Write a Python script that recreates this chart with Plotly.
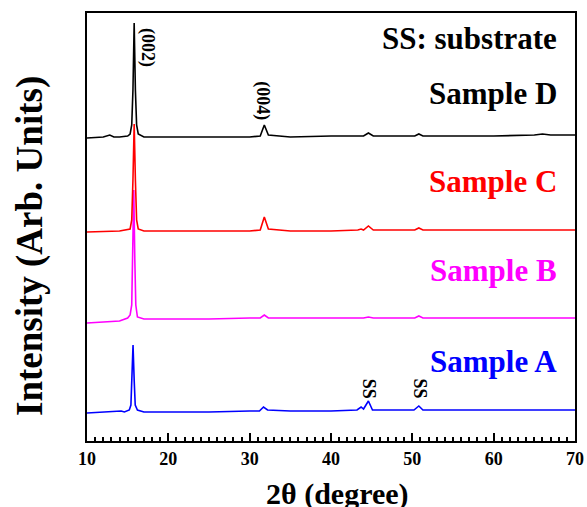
import plotly.graph_objects as go

# ---- data (2theta in degrees, intensity in arbitrary units, offsets included) ----
xA = [10, 13, 14.2, 14.6, 15.2, 15.4, 15.53, 15.66, 15.8, 15.93, 16.2, 17, 20, 25, 30, 31.2, 31.7, 32.2,
      35, 40, 43.2, 43.7, 44.0, 44.6, 45.1, 48, 50.2, 50.8, 51.3, 55, 60, 65, 70]
yA = [28, 29, 30, 29, 31, 36, 61, 96, 61, 36, 31, 29, 29, 29, 30, 30, 34, 31,
      30, 30, 31, 34, 32, 40, 31, 31, 31, 35, 31, 31, 31, 31, 31]

xB = [10, 12, 14, 15.0, 15.3, 15.5, 15.62, 15.75, 15.88, 16.0, 16.2, 17, 20, 25, 30, 31.3, 31.8, 32.3,
      35, 40, 44.0, 44.6, 45.2, 50.3, 50.8, 51.3, 55, 60, 65, 70]
yB = [118, 119, 120, 123, 126, 136, 181, 251, 181, 136, 124, 122, 122, 122, 123, 123, 126, 123,
      123, 123, 123, 124, 123, 123, 125, 123, 123, 123, 123, 123]

xC = [10, 14, 15.3, 15.5, 15.65, 15.8, 15.95, 16.1, 16.3, 17, 20, 25, 30, 31.3, 31.8, 32.3,
      35, 40, 43.3, 43.7, 44.0, 44.6, 45.2, 50.3, 50.8, 51.3, 55, 60, 65, 70]
yC = [209, 210, 212, 221, 261, 317, 261, 221, 212, 210, 210, 210, 210, 211, 224, 212,
      210, 210, 211, 212, 211, 215, 211, 211, 213, 211, 211, 211, 211, 211]

xD = [10, 12, 12.8, 13.3, 14, 15.0, 15.3, 15.5, 15.65, 15.8, 15.95, 16.1, 16.3, 17, 20, 25, 30, 31.3,
      31.8, 32.3, 35, 40, 44.0, 44.6, 45.2, 50.3, 50.8, 51.3, 55, 60, 65, 66, 67, 70]
yD = [303, 304, 306, 304, 304, 305, 307, 316, 351, 418, 351, 316, 307, 304, 304, 304, 304, 305,
      316, 306, 304, 305, 305, 308, 305, 305, 307, 305, 305, 305, 306, 307, 306, 306]

series = [("Sample A", xA, yA, "#0000ff"),
          ("Sample B", xB, yB, "#ff00ff"),
          ("Sample C", xC, yC, "#ff0000"),
          ("Sample D", xD, yD, "#000000")]

label_y = {"Sample A": 80, "Sample B": 171, "Sample C": 260, "Sample D": 348}
peak_labels = [("(002)", 17.5, 394), ("(004)", 31.6, 340), ("SS", 44.7, 52), ("SS", 51.0, 52)]

FONT = "Times New Roman, Liberation Serif, serif"

fig = go.Figure()
for name, xs, ys, col in series:
    fig.add_trace(go.Scatter(x=xs, y=ys, mode="lines", name=name,
                             line=dict(color=col, width=1.6), showlegend=False))

for name, xs, ys, col in series:
    fig.add_annotation(x=68.0, y=label_y[name], text="<b>%s</b>" % name, showarrow=False,
                       xanchor="right", yanchor="middle",
                       font=dict(family=FONT, size=31, color=col))
fig.add_annotation(x=68.0, y=403, text="<b>SS: substrate</b>", showarrow=False,
                   xanchor="right", yanchor="middle",
                   font=dict(family=FONT, size=31, color="#000000"))

for txt, px, py in peak_labels:
    fig.add_annotation(x=px, y=py, text="<b>%s</b>" % txt, showarrow=False, textangle=90,
                       xanchor="center", yanchor="middle",
                       font=dict(family=FONT, size=18, color="#000000"))

# axis titles as paper annotations
fig.add_annotation(xref="paper", yref="paper", x=(337 - 87) / 488, y=(441 - 494) / 428,
                   text="<b>2θ (degree)</b>", showarrow=False, xanchor="center", yanchor="middle",
                   font=dict(family=FONT, size=30, color="black"))
fig.add_annotation(xref="paper", yref="paper", x=(30 - 87) / 488, y=(441 - 246) / 428,
                   text="<b>Intensity (Arb. Units)</b>", showarrow=False, textangle=-90,
                   xanchor="center", yanchor="middle",
                   font=dict(family=FONT, size=37, color="black"))

fig.update_layout(
    width=587, height=507,
    margin=dict(l=87, r=12, t=13, b=66, autoexpand=False),
    paper_bgcolor="white", plot_bgcolor="white",
    font=dict(family=FONT, color="black"),
)
fig.update_xaxes(
    range=[10, 70], dtick=10, tick0=10, automargin=False,
    ticks="inside", ticklen=8, tickwidth=2, tickcolor="black",
    minor=dict(dtick=1, ticks="inside", ticklen=4, tickwidth=1.5, tickcolor="black"),
    showline=True, linewidth=2, linecolor="black", mirror=True,
    showgrid=False, zeroline=False,
    tickfont=dict(family=FONT, size=18, color="black"),
    tickprefix="<b>", ticksuffix="</b>",
)
fig.update_yaxes(
    range=[0, 428], showticklabels=False, ticks="", automargin=False,
    showline=True, linewidth=2, linecolor="black", mirror=True,
    showgrid=False, zeroline=False,
)

fig.write_html("out.html")
